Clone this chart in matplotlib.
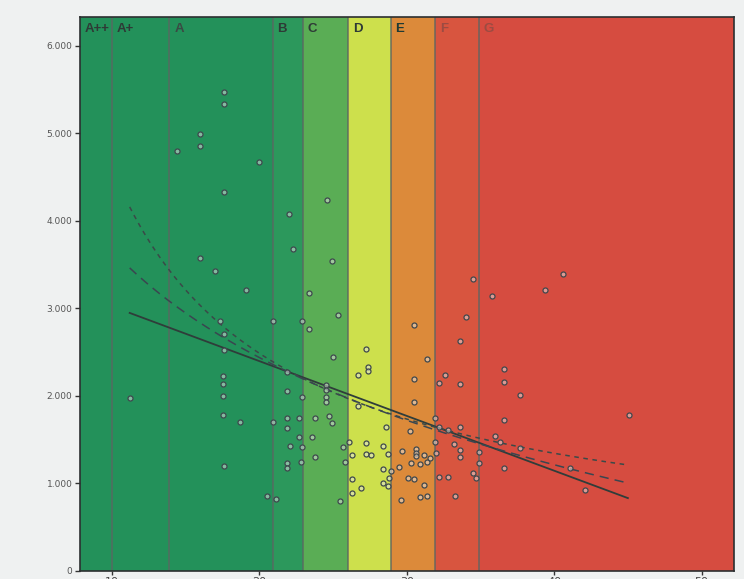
#!/usr/bin/env python
# -*- coding: utf-8 -*-

import numpy as np
import matplotlib.pyplot as plt
from matplotlib.ticker import FuncFormatter

# Energieklassen (Grenzen auf der x-Achse)
klassen = ['A++', 'A+', 'A', 'B', 'C', 'D', 'E', 'F', 'G']
grenzen = [7.83, 10.0, 13.9, 20.9, 22.95, 26.0, 28.9, 31.9, 34.9, 52.2]
farben = ['#23915a', '#23915a', '#23915a', '#2c985c', '#5aad55',
          '#cde04c', '#dc8a3a', '#d8553f', '#d64c40']
text_farben = ['#2e3a36', '#2e3a36', '#3a4a44', '#2e3a36', '#2e3a36',
               '#2e3a36', '#1f3a34', '#9c4b42', '#9c4b42']

x_ticks = [10, 20, 30, 40, 50]
y_ticks = [0, 1000, 2000, 3000, 4000, 5000, 6000]

# Messpunkte
x_werte = [11.2, 14.4, 16.0, 16.0, 16.0, 17.0, 17.6, 17.6, 17.6, 17.3,
           17.6, 17.6, 17.5, 17.5, 17.5, 17.5, 17.6, 18.7, 19.1, 20.0,
           20.5, 20.9, 20.9, 21.1,
           21.9, 22.0, 21.9, 21.9, 21.9, 22.1, 21.9, 21.9, 22.3, 22.7,
           22.7, 22.9, 22.8, 22.9, 22.9,
           23.4, 23.4, 23.8, 23.6, 23.8, 24.6, 24.9, 25.0, 24.5, 24.5,
           24.5, 24.5, 24.7, 24.9, 25.3, 25.5, 25.7, 25.8,
           26.1, 26.3, 27.2, 27.4, 27.4, 26.7, 26.7, 27.2, 27.2, 27.6,
           26.3, 26.9, 26.3, 28.6, 28.4, 28.7, 28.4, 28.4, 28.9, 28.8, 28.7,
           29.7, 30.5, 31.4, 30.5, 30.5, 30.2, 30.6, 30.6, 30.6, 31.2,
           30.3, 30.9, 31.4, 31.6, 29.5, 30.1, 30.5, 31.2, 30.9, 31.4, 29.6,
           34.5, 34.0, 33.6, 32.6, 32.2, 33.6, 31.9, 32.2, 32.8, 33.6,
           31.9, 32.0, 33.2, 33.6, 33.6, 34.9, 34.9, 34.5, 34.7, 32.8,
           32.2, 33.3,
           35.8, 39.4, 40.6, 36.6, 36.6, 37.7, 36.6, 36.0, 36.3, 37.7,
           36.6, 41.1, 42.1, 45.1]
y_werte = [1977, 4800, 4995, 4858, 3578, 3429, 5475, 5338, 4332, 2858,
           2709, 2526, 2229, 2137, 2000, 1783, 1200, 1703, 3212, 4675,
           857, 2858, 1703, 823,
           2275, 4080, 2057, 1749, 1634, 1429, 1234, 1177, 3680, 1749,
           1532, 1417, 1246, 2858, 1989,
           3178, 2766, 1749, 1532, 1303, 4241, 3543, 2446, 2126, 2069,
           1989, 1932, 1772, 1692, 2926, 800, 1417, 1246,
           1474, 1326, 2537, 2332, 2286, 2240, 1886, 1463, 1337, 1326,
           1052, 949, 892, 1646, 1429, 1337, 1166, 1006, 1143, 1063, 972,
           1372, 2812, 2423, 2195, 1932, 1600, 1394, 1349, 1314, 1326,
           1234, 1223, 1246, 1292, 1189, 1063, 1052, 983, 846, 857, 812,
           3338, 2903, 2629, 2240, 2149, 2137, 1749, 1646, 1612, 1646,
           1474, 1349, 1452, 1383, 1303, 1360, 1234, 1120, 1063, 1074,
           1074, 857,
           3143, 3212, 3395, 2309, 2160, 2012, 1726, 1543, 1474, 1406,
           1177, 1177, 926, 1783]

# Trendlinien (linear, Potenz, logarithmisch)
trend_x = [11.2, 45.0]
linear_a, linear_b = 3650, -62.6
potenz_a, potenz_b = 35460, -0.887
log_a, log_b = 7732, -1767


def tausender(v, pos):
    return '{:,.0f}'.format(v).replace(',', '.')


def creer_graphe():
    fig = plt.figure(figsize=(7.44, 5.79), dpi=100, facecolor='#eff1f1')
    ax = fig.add_axes([80 / 744, 8 / 579, 654 / 744, 554 / 579])

    for i in range(len(klassen)):
        ax.axvspan(grenzen[i], grenzen[i + 1], color=farben[i], lw=0, zorder=0)
        if i > 0:
            ax.axvline(grenzen[i], color='#5c6662', lw=1.3, alpha=0.75, zorder=1)
        ax.annotate(klassen[i], xy=(grenzen[i], 0.979), xycoords=('data', 'axes fraction'),
                    xytext=(3.5, 0), textcoords='offset points', va='center', ha='left',
                    fontsize=9.5, fontweight='bold', color=text_farben[i],
                    family=['Liberation Sans', 'DejaVu Sans'])

    xs = np.linspace(trend_x[0], trend_x[1], 200)
    ax.plot(xs, linear_a + linear_b * xs, color='#2f3d3a', lw=1.3, zorder=3)
    ax.plot(xs, potenz_a * xs ** potenz_b, color='#3a4a48', lw=1.1,
            dashes=(3, 3), zorder=3)
    ax.plot(xs, log_a + log_b * np.log(xs), color='#3a4650', lw=1.1,
            dashes=(6, 4), zorder=3)

    ax.scatter(x_werte, y_werte, s=13, facecolor=(0.9, 0.9, 0.9, 0.5),
               edgecolor='#3f484e', linewidth=0.9, zorder=4)

    ax.set_xlim(grenzen[0], grenzen[-1])
    ax.set_ylim(0, 6330)
    ax.set_xticks(x_ticks)
    ax.set_yticks(y_ticks)
    ax.yaxis.set_major_formatter(FuncFormatter(tausender))
    ax.tick_params(axis='y', labelsize=6.5, labelcolor='#555555', length=3.5,
                   width=1.0, color='#333333', pad=2)
    ax.tick_params(axis='x', labelsize=8, labelcolor='#444444', length=3,
                   width=1.0, color='#333333', pad=1)
    for s in ax.spines.values():
        s.set_color('#2c2f30')
        s.set_linewidth(1.2)

    fig.savefig('out.png', dpi=100, facecolor=fig.get_facecolor())


if __name__ == '__main__':
    creer_graphe()
